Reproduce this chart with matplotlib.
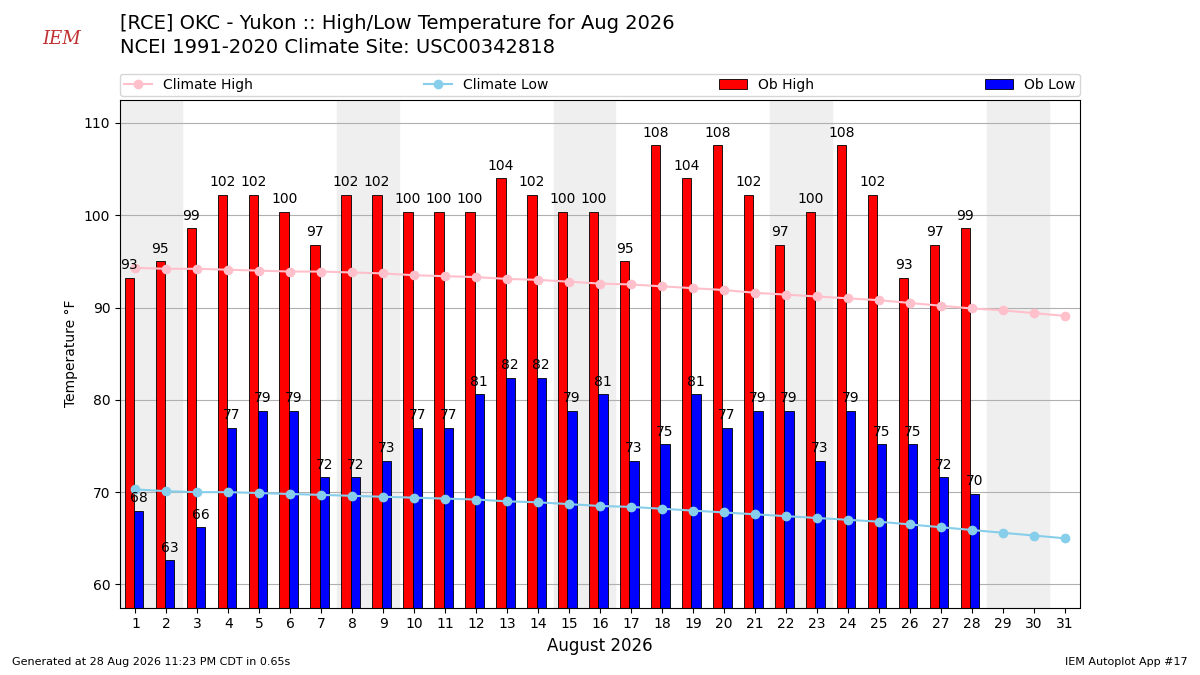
import numpy as np
import matplotlib.pyplot as plt

days = np.arange(1, 32)
ob_high = [93.2, 95.0, 98.6, 102.2, 102.2, 100.4, 96.8, 102.2, 102.2, 100.4, 100.4, 100.4, 104.0, 102.2,
           100.4, 100.4, 95.0, 107.6, 104.0, 107.6, 102.2, 96.8, 100.4, 107.6, 102.2, 93.2, 96.8, 98.6]
ob_low = [68.0, 62.6, 66.2, 77.0, 78.8, 78.8, 71.6, 71.6, 73.4, 77.0, 77.0, 80.6, 82.4, 82.4,
          78.8, 80.6, 73.4, 75.2, 80.6, 77.0, 78.8, 78.8, 73.4, 78.8, 75.2, 75.2, 71.6, 69.8]
clim_high = [94.3, 94.2, 94.2, 94.1, 94.0, 93.9, 93.9, 93.8, 93.7, 93.5, 93.4, 93.3, 93.1, 93.0, 92.8, 92.6,
             92.5, 92.3, 92.1, 91.9, 91.6, 91.4, 91.2, 91.0, 90.8, 90.5, 90.2, 89.9, 89.7, 89.4, 89.1]
clim_low = [70.3, 70.1, 70.0, 70.0, 69.9, 69.8, 69.7, 69.6, 69.5, 69.4, 69.3, 69.2, 69.0, 68.9, 68.7, 68.5,
            68.4, 68.2, 68.0, 67.8, 67.6, 67.4, 67.2, 67.0, 66.8, 66.5, 66.2, 65.9, 65.6, 65.3, 65.0]
weekends = [1, 8, 15, 22, 29]

fig = plt.figure(figsize=(12, 6.75), dpi=100)
ax = fig.add_axes([0.1, 0.1, 0.8, 0.752])

for d in weekends:
    ax.axvspan(d - 0.5, d + 1.5, color='#efefef', zorder=0)

n = len(ob_high)
x = np.arange(1, n + 1)
w = 0.3
hb = ax.bar(x - 0.2, ob_high, width=w, color='red', edgecolor='black', linewidth=0.6, label='Ob High', zorder=2)
lb = ax.bar(x + 0.1, ob_low, width=w, color='blue', edgecolor='black', linewidth=0.6, label='Ob Low', zorder=2)
for xi, v in zip(x, ob_high):
    ax.text(xi - 0.2, v + 0.6, f"{v:.0f}", ha='center', va='bottom', fontsize=10, zorder=4)
for xi, v in zip(x, ob_low):
    ax.text(xi + 0.1, v + 0.6, f"{v:.0f}", ha='center', va='bottom', fontsize=10, zorder=4)

l1, = ax.plot(days, clim_high, color='pink', marker='o', ms=6, label='Climate High', zorder=3)
l2, = ax.plot(days, clim_low, color='skyblue', marker='o', ms=6, label='Climate Low', zorder=3)

ax.set_xlim(0.5, 31.5)
ax.set_ylim(57.5, 112.5)
ax.set_xticks(days)
ax.set_yticks([60, 70, 80, 90, 100, 110])
ax.yaxis.grid(True, color='#b0b0b0', zorder=1)
ax.set_axisbelow(True)
ax.set_ylabel('Temperature °F')
ax.set_xlabel('August 2026', fontsize=12)

ax.legend(handles=[l1, l2, hb, lb], ncol=4, loc='lower left', bbox_to_anchor=(0, 1.008, 1, 0.1),
          mode='expand', borderaxespad=0, fontsize=10, borderpad=0.3)

fig.text(0.1, 0.965, "[RCE] OKC - Yukon :: High/Low Temperature for Aug 2026", fontsize=14, va='center')
fig.text(0.1, 0.93, "NCEI 1991-2020 Climate Site: USC00342818", fontsize=14, va='center')
fig.text(0.035, 0.935, "IEM", color='#c03030', fontsize=13, style='italic', family='serif')
fig.text(0.01, 0.015, "Generated at 28 Aug 2026 11:23 PM CDT in 0.65s", fontsize=8)
fig.text(0.99, 0.015, "IEM Autoplot App #17", fontsize=8, ha='right')

fig.savefig('out.png')
